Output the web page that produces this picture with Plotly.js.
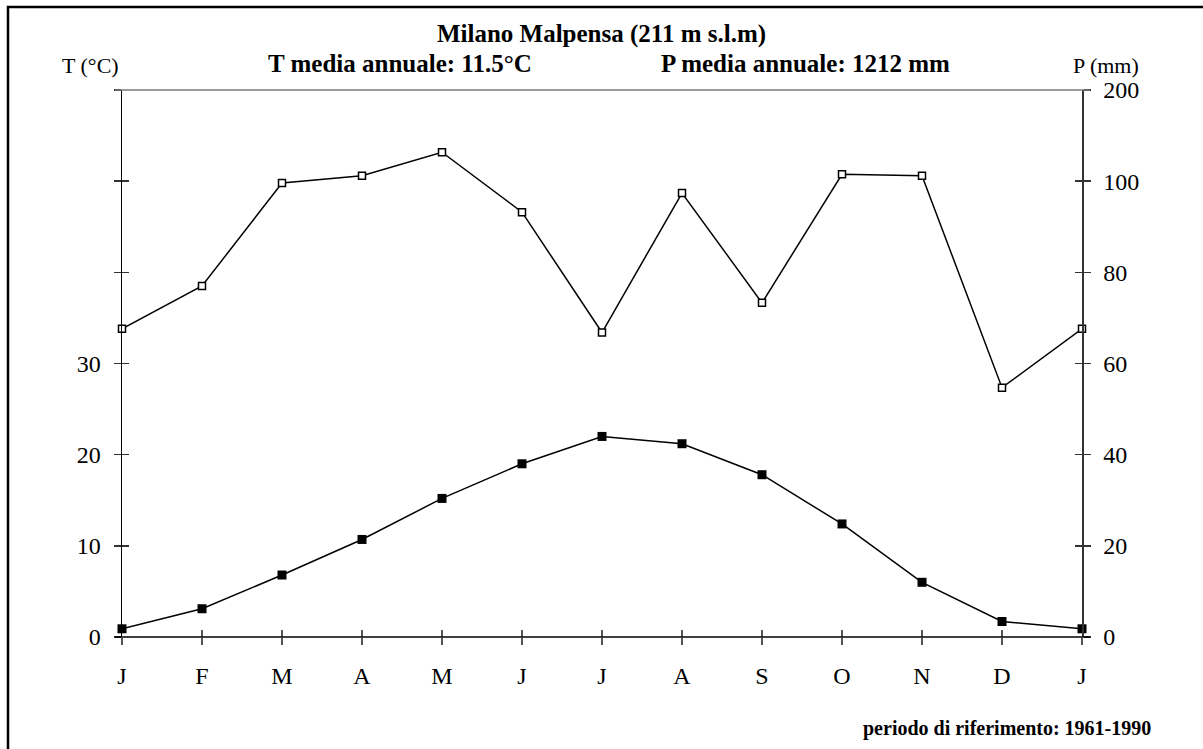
<!DOCTYPE html>
<html>
<head>
<meta charset="utf-8">
<script src="https://cdn.plot.ly/plotly-3.0.1.min.js"></script>
<style>
  html, body { margin: 0; padding: 0; background: #fff; }
  #chart { width: 1203px; height: 749px; }
</style>
</head>
<body>
<div id="chart"></div>
<script>
// ---- data ----
var months = ['J','F','M','A','M','J','J','A','S','O','N','D','J'];
var monthIndex = [0,1,2,3,4,5,6,7,8,9,10,11,12];
var tempC = [0.9, 3.1, 6.8, 10.7, 15.2, 19.0, 22.0, 21.2, 17.8, 12.4, 6.0, 1.7, 0.9];
var precMM = [67.6, 77.0, 99.6, 106, 131.7, 93.2, 66.8, 97.4, 73.3, 107.6, 106, 54.7, 67.6];
var tTickVals = [0, 10, 20, 30, 40, 50, 60];
var tTickText = ['0', '10', '20', '30', '', '', ''];
var pTickMM = [0, 20, 40, 60, 80, 100, 200];

// Walter-Lieth style precipitation scale: linear to 100 mm, compressed above
function pScale(p) { return p <= 100 ? p : 100 + (p - 100) / 5; }

var FONT = 'Liberation Serif, Times New Roman, serif';
var L = 122, R = 121, T = 90, B = 112;
var W = 1203, H = 749;
var pw = W - L - R, ph = H - T - B;
function px(x) { return (x - L) / pw; }
function py(y) { return (H - B - y) / ph; }

var traceP = {
  x: monthIndex, y: precMM.map(pScale), xaxis: 'x', yaxis: 'y2',
  type: 'scatter', mode: 'lines+markers', cliponaxis: false,
  line: { color: '#000', width: 1.5 },
  marker: { symbol: 'square', size: 7, color: '#fff', line: { color: '#000', width: 1.5 } },
  hoverinfo: 'skip'
};
var traceT = {
  x: monthIndex, y: tempC, xaxis: 'x', yaxis: 'y',
  type: 'scatter', mode: 'lines+markers', cliponaxis: false,
  line: { color: '#000', width: 1.5 },
  marker: { symbol: 'square', size: 9, color: '#000' },
  hoverinfo: 'skip'
};
// empty traces that only activate the overlay axes carrying the inner halves of the ticks
var tickHostA = { type: 'scatter', x: [], y: [], xaxis: 'x2', yaxis: 'y3', hoverinfo: 'skip', showlegend: false };
var tickHostB = { type: 'scatter', x: [], y: [], xaxis: 'x2', yaxis: 'y4', hoverinfo: 'skip', showlegend: false };

var tickFont = { family: FONT, size: 24, color: '#000' };

var layout = {
  width: W, height: H,
  margin: { l: L, r: R, t: T, b: B },
  paper_bgcolor: '#fff', plot_bgcolor: '#fff',
  showlegend: false,
  title: {
    text: '<b>Milano Malpensa (211 m s.l.m)</b>',
    font: { family: FONT, size: 25, color: '#000' },
    x: 0.5, xref: 'container', xanchor: 'center',
    y: 1 - 33 / H, yref: 'container', yanchor: 'middle'
  },
  xaxis: {
    range: [0, 12], tickvals: monthIndex, ticktext: months,
    ticks: 'outside', ticklen: 7, tickwidth: 1.5, tickcolor: '#555',
    showline: false, showgrid: false, zeroline: false,
    tickfont: tickFont, ticklabelstandoff: 10, fixedrange: true
  },
  xaxis2: {
    overlaying: 'x', anchor: 'y', range: [0, 12], tickvals: monthIndex,
    ticks: 'inside', ticklen: 7, tickwidth: 1.5, tickcolor: '#555',
    showticklabels: false, showline: false, showgrid: false, zeroline: false
  },
  yaxis: {
    range: [0, 60], tickvals: tTickVals, ticktext: tTickText,
    ticks: 'outside', ticklen: 7, tickwidth: 1.5, tickcolor: '#333',
    showline: true, linecolor: '#000', linewidth: 1.5,
    showgrid: false, zeroline: false, tickfont: tickFont, ticklabelstandoff: 8
  },
  yaxis3: {
    overlaying: 'y', anchor: 'x', side: 'left', range: [0, 60], tickvals: tTickVals,
    ticks: 'inside', ticklen: 7, tickwidth: 1.5, tickcolor: '#333',
    showticklabels: false, showline: false, showgrid: false, zeroline: false
  },
  yaxis2: {
    overlaying: 'y', anchor: 'x', side: 'right', range: [0, 120],
    tickvals: pTickMM.map(pScale), ticktext: pTickMM.map(String),
    ticks: 'outside', ticklen: 7, tickwidth: 1.5, tickcolor: '#333',
    showline: true, linecolor: '#333', linewidth: 1.5,
    showgrid: false, zeroline: false, tickfont: tickFont, ticklabelstandoff: 8
  },
  yaxis4: {
    overlaying: 'y', anchor: 'x', side: 'right', range: [0, 120],
    tickvals: pTickMM.map(pScale),
    ticks: 'inside', ticklen: 7, tickwidth: 1.5, tickcolor: '#333',
    showticklabels: false, showline: false, showgrid: false, zeroline: false
  },
  shapes: [
    // outer frame
    { type: 'rect', xref: 'paper', yref: 'paper', x0: px(8), x1: px(1215), y0: py(765), y1: py(7),
      line: { color: '#000', width: 2.5 }, fillcolor: 'rgba(0,0,0,0)', layer: 'below' },
    // top frame line of plot
    { type: 'line', xref: 'paper', yref: 'paper', x0: px(115), x1: px(1090), y0: 1, y1: 1,
      line: { color: '#7a7a7a', width: 1.5 } },
    // bottom axis line
    { type: 'line', xref: 'paper', yref: 'paper', x0: px(115), x1: px(1090), y0: 0, y1: 0,
      line: { color: '#000', width: 1.5 } }
  ],
  annotations: [
    { text: '<b>T media annuale: 11.5°C</b>', xref: 'paper', yref: 'paper',
      x: px(400), y: py(64), xanchor: 'center', yanchor: 'middle', showarrow: false,
      font: { family: FONT, size: 25, color: '#000' } },
    { text: '<b>P media annuale: 1212 mm</b>', xref: 'paper', yref: 'paper',
      x: px(805), y: py(64), xanchor: 'center', yanchor: 'middle', showarrow: false,
      font: { family: FONT, size: 25, color: '#000' } },
    { text: 'T (°C)', xref: 'paper', yref: 'paper',
      x: px(90), y: py(65), xanchor: 'center', yanchor: 'middle', showarrow: false,
      font: { family: FONT, size: 22, color: '#000' } },
    { text: 'P (mm)', xref: 'paper', yref: 'paper',
      x: px(1106), y: py(65), xanchor: 'center', yanchor: 'middle', showarrow: false,
      font: { family: FONT, size: 22, color: '#000' } },
    { text: '<b>periodo di riferimento: 1961-1990</b>', xref: 'paper', yref: 'paper',
      x: px(1153), y: py(728), xanchor: 'right', yanchor: 'middle', showarrow: false,
      font: { family: FONT, size: 20, color: '#000' } }
  ]
};

Plotly.newPlot('chart', [tickHostA, tickHostB, traceP, traceT], layout, { displayModeBar: false, staticPlot: true });
</script>
</body>
</html>
